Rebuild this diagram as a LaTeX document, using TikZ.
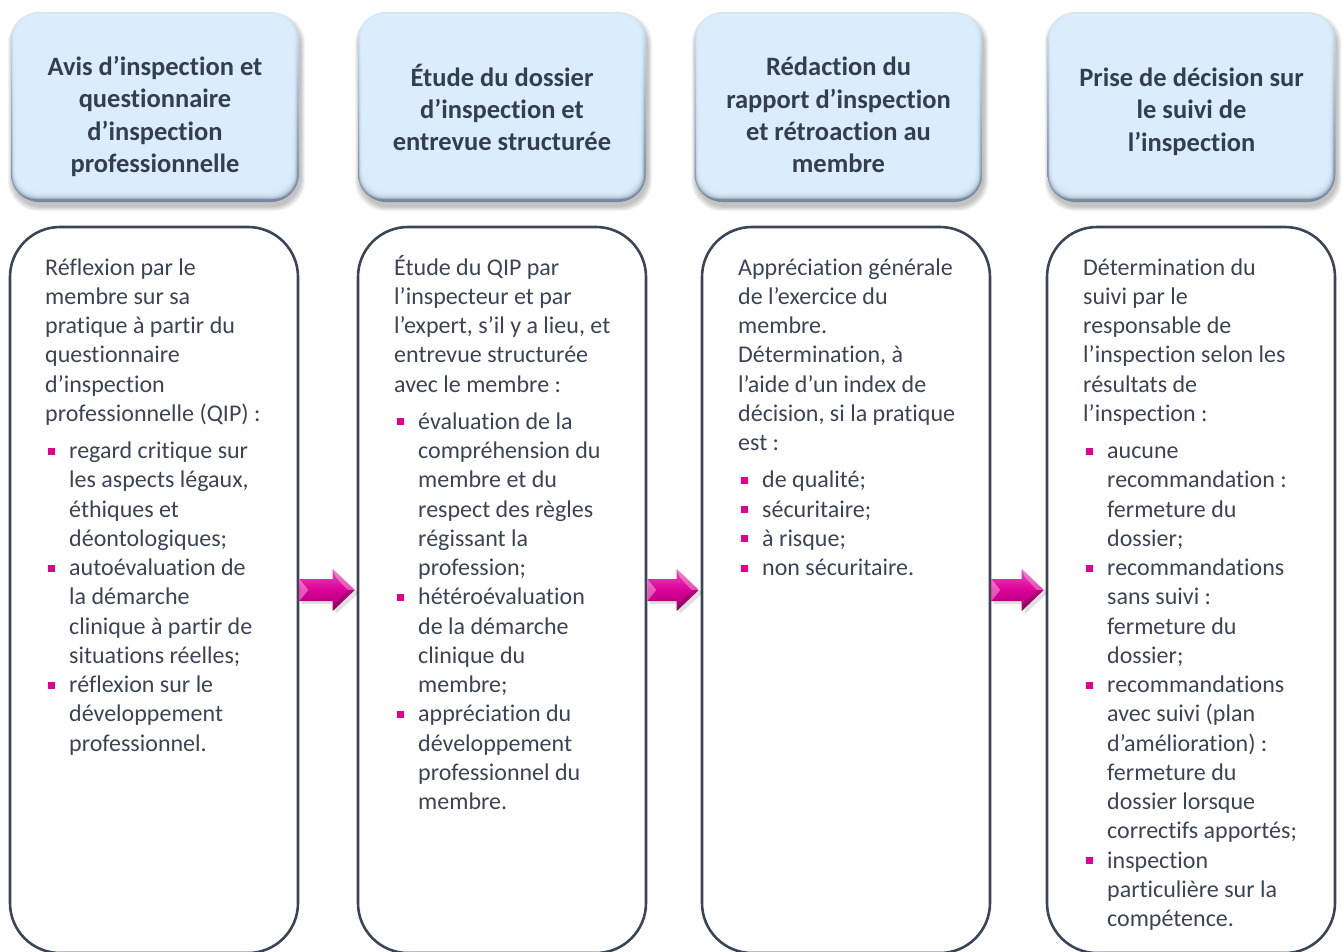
\documentclass[tikz,border=0pt]{standalone}
\usepackage{fontspec}
\setmainfont{Carlito}[Ligatures=NoCommon]
\usetikzlibrary{calc}
\pgfdeclarelayer{background}
\pgfsetlayers{background,main}
\definecolor{boxline}{HTML}{3B4558}
\definecolor{headtxt}{HTML}{333F50}
\definecolor{bodytxt}{HTML}{3B4455}
\definecolor{bulc}{HTML}{E3008C}
\definecolor{hin}{HTML}{DDEEFC}
\definecolor{hedgeT}{HTML}{D3E3F1}
\definecolor{hedgeB}{HTML}{74889E}
\definecolor{arT}{HTML}{F04BBE}
\definecolor{arM}{HTML}{DC0098}
\definecolor{arB}{HTML}{A0006A}
\newcommand{\bul}{\par\hangindent=24pt\hangafter=0\noindent\llap{\textcolor{bulc}{\rule[3.8pt]{7pt}{7pt}}\hspace{14.5pt}}}
\newcommand{\myarrow}[2]{%
  \fill[black,opacity=0.12] ($(#1.east)+(2,-8)$) -- ($(#2.west)+(-21,-8)$) -- ($(#2.west)+(-21,-18)$) -- ($(#2.west)+(2,3)$) -- ($(#2.west)+(-21,24)$) -- ($(#2.west)+(-21,14)$) -- ($(#1.east)+(2,14)$) -- cycle;
  \path[top color=arT, bottom color=arB, middle color=arM] ($(#1.east)+(0,-11)$) -- ($(#2.west)+(-24,-11)$) -- ($(#2.west)+(-24,-21)$) -- ($(#2.west)+(-2,0)$) -- ($(#2.west)+(-24,21)$) -- ($(#2.west)+(-24,11)$) -- ($(#1.east)+(0,11)$) -- cycle;
  \fill[white,opacity=0.35] ($(#1.east)+(0,-11)$) -- ($(#1.east)+(9,0)$) -- ($(#1.east)+(0,11)$) -- cycle;
  \fill[white,opacity=0.3] ($(#2.west)+(-24,-21)$) -- ($(#2.west)+(-2,0)$) -- ($(#2.west)+(-9,0)$) -- ($(#2.west)+(-21,-13)$) -- cycle;
  \fill[black,opacity=0.15] ($(#2.west)+(-24,21)$) -- ($(#2.west)+(-2,0)$) -- ($(#2.west)+(-9,0)$) -- ($(#2.west)+(-21,13)$) -- cycle;
}
\begin{document}
\begin{tikzpicture}[x=1pt,y=-1pt,
  head/.style={rectangle, rounded corners=28pt, minimum width=288pt, minimum height=190pt,
    top color=hedgeT, bottom color=hedgeB, inner sep=0pt,
    path picture={
      \foreach \i in {0,...,7}{
        \fill[hin, fill opacity=0.4, rounded corners=24pt]
          ($(path picture bounding box.north west)+(1+0.6*\i,1+0.4*\i)$) rectangle
          ($(path picture bounding box.south east)+(-2-0.8*\i,-3-1.0*\i)$);
      }
    }},
  headtext/.style={align=center, text=headtxt, inner sep=0pt,
    font=\fontsize{26.5}{32.4}\selectfont\bfseries},
  bodybox/.style={rectangle, rounded corners=50pt, draw=boxline, line width=2.6pt,
    minimum width=288pt, minimum height=726pt, inner sep=0pt},
  bodytext/.style={anchor=base west, inner sep=0pt, text=bodytxt,
    font=\fontsize{24}{29.25}\selectfont}
]
\useasboundingbox (0,0) rectangle (1342,951);

% header boxes
\node[head] (h1) at (155,107) {};
\node[head] (h2) at (502,107) {};
\node[head] (h3) at (838.5,107) {};
\node[head] (h4) at (1191.5,107) {};
\begin{pgfonlayer}{background}
  \foreach \h in {h1,h2,h3,h4}{
    \foreach \i in {1,...,6}{
      \fill[black, fill opacity=0.045, rounded corners=30pt]
        ($(\h.north west)+(2-0.8*\i,6-0.8*\i)$) rectangle ($(\h.south east)+(1+0.8*\i,4+0.8*\i)$);
    }
  }
\end{pgfonlayer}

\node[headtext] (ht1) at ($(h1.center)+(0,9.5)$) {Avis d’inspection et\\questionnaire\\d’inspection\\professionnelle};
\node[headtext] (ht2) at ($(h2.center)+(0,0.5)$) {Étude du dossier\\d’inspection et\\entrevue structurée};
\node[headtext] (ht3) at ($(h3.center)+(0,8)$) {Rédaction du\\rapport d’inspection\\et rétroaction au\\membre};
\node[headtext] (ht4) at ($(h4.center)+(0,4.5)$) {Prise de décision sur\\le suivi de\\l’inspection};

% body boxes
\node[bodybox] (b1) at (154,590) {};
\node[bodybox] (b2) at (502,590) {};
\node[bodybox] (b3) at (846,590) {};
\node[bodybox] (b4) at (1191,590) {};

% body texts
\node[bodytext] (t1) at (45,275) {\begin{minipage}[t]{250pt}
Réflexion par le\\membre sur sa\\pratique à partir du\\questionnaire\\d’inspection\\professionnelle (QIP) :
\par\vspace{8pt}
\bul regard critique sur\\les aspects légaux,\\éthiques et\\déontologiques;
\bul autoévaluation de\\la démarche\\clinique à partir de\\situations réelles;
\bul réflexion sur le\\développement\\professionnel.
\end{minipage}};

\node[bodytext] (t2) at (394,275) {\begin{minipage}[t]{250pt}
Étude du QIP par\\l’inspecteur et par\\l’expert, s’il y a lieu, et\\entrevue structurée\\avec le membre :
\par\vspace{8pt}
\bul évaluation de la\\compréhension du\\membre et du\\respect des règles\\régissant la\\profession;
\bul hétéroévaluation\\de la démarche\\clinique du\\membre;
\bul appréciation du\\développement\\professionnel du\\membre.
\end{minipage}};

\node[bodytext] (t3) at (738,275) {\begin{minipage}[t]{250pt}
Appréciation générale\\de l’exercice du\\membre.\\Détermination, à\\l’aide d’un index de\\décision, si la pratique\\est :
\par\vspace{8pt}
\bul de qualité;
\bul sécuritaire;
\bul à risque;
\bul non sécuritaire.
\end{minipage}};

\node[bodytext] (t4) at (1083,275) {\begin{minipage}[t]{250pt}
Détermination du\\suivi par le\\responsable de\\l’inspection selon les\\résultats de\\l’inspection :
\par\vspace{8pt}
\bul aucune\\recommandation :\\fermeture du\\dossier;
\bul recommandations\\sans suivi :\\fermeture du\\dossier;
\bul recommandations\\avec suivi (plan\\d’amélioration) :\\fermeture du\\dossier lorsque\\correctifs apportés;
\bul inspection\\particulière sur la\\compétence.
\end{minipage}};

% arrows
\myarrow{b1}{b2}
\myarrow{b2}{b3}
\myarrow{b3}{b4}
\end{tikzpicture}
\end{document}
